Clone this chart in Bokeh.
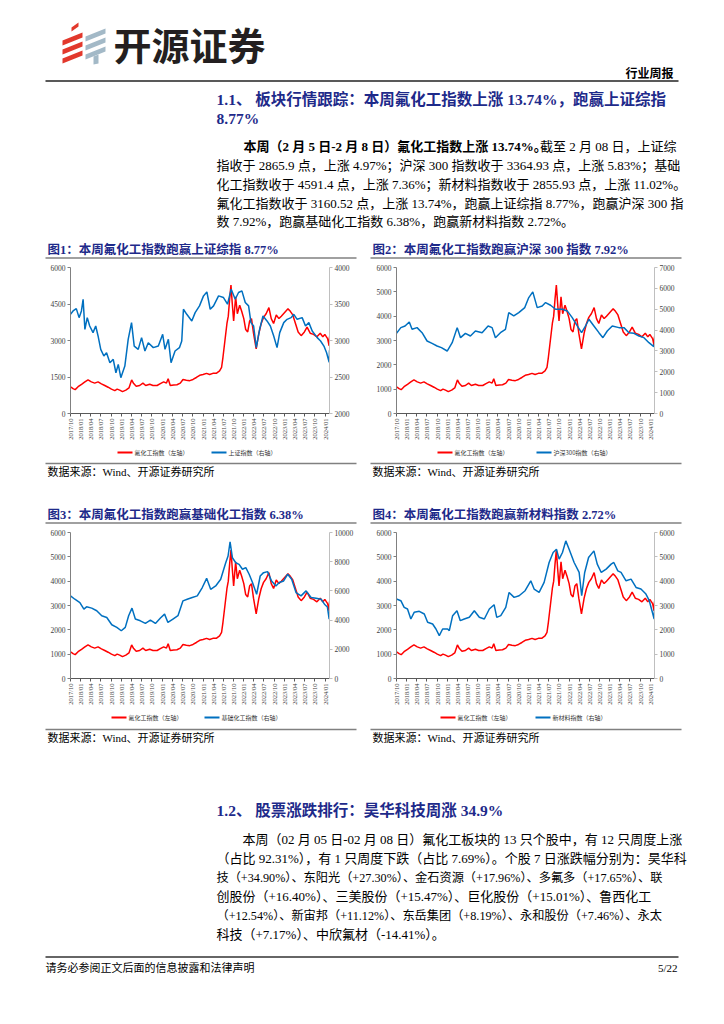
import math
import pandas as pd
from bokeh.plotting import figure
from bokeh.models import Range1d, LinearAxis, FixedTicker, DatetimeTickFormatter, Spacer
from bokeh.layouts import column, row
from bokeh.core.properties import value
from bokeh.embed import file_html
from bokeh.resources import INLINE

# ------------------------------------------------------------------ data
quarter_labels = ["2017/10", "2018/01", "2018/04", "2018/07", "2018/10", "2019/01", "2019/04",
                  "2019/07", "2019/10", "2020/01", "2020/04", "2020/07", "2020/10", "2021/01",
                  "2021/04", "2021/07", "2021/10", "2022/01", "2022/04", "2022/07", "2022/10",
                  "2023/01", "2023/04", "2023/07", "2023/10", "2024/01"]
x_start = "2017-10-01"
x_end = "2024-02-08"

fluoro_dates = ["2017-10-01", "2017-10-24", "2017-11-12", "2017-12-08", "2018-01-08", "2018-02-07",
                "2018-03-07", "2018-04-06", "2018-05-06", "2018-06-05", "2018-07-05", "2018-08-04",
                "2018-09-03", "2018-10-03", "2018-11-02", "2018-11-23", "2018-12-16", "2019-01-10",
                "2019-02-09", "2019-03-09", "2019-04-02", "2019-04-20", "2019-05-13", "2019-06-13",
                "2019-07-12", "2019-08-06", "2019-09-11", "2019-10-10", "2019-11-16", "2019-12-15",
                "2020-01-14", "2020-02-08", "2020-02-23", "2020-03-13", "2020-04-13", "2020-05-12",
                "2020-06-11", "2020-07-05", "2020-08-04", "2020-09-04", "2020-10-03", "2020-11-02",
                "2020-12-02", "2021-01-01", "2021-02-01", "2021-03-01", "2021-03-30", "2021-04-29",
                "2021-05-29", "2021-06-16", "2021-06-28", "2021-07-16", "2021-08-03", "2021-08-15",
                "2021-08-27", "2021-09-08", "2021-09-20", "2021-10-02", "2021-10-20", "2021-11-04",
                "2021-11-25", "2021-12-13", "2022-01-01", "2022-01-18", "2022-02-05", "2022-02-22",
                "2022-03-11", "2022-03-29", "2022-04-22", "2022-05-16", "2022-06-06", "2022-06-27",
                "2022-07-20", "2022-08-14", "2022-09-04", "2022-09-25", "2022-10-19", "2022-11-12",
                "2022-12-03", "2023-01-02", "2023-02-01", "2023-02-22", "2023-03-16", "2023-04-09",
                "2023-05-03", "2023-05-30", "2023-06-28", "2023-07-22", "2023-08-19", "2023-09-18",
                "2023-10-18", "2023-11-17", "2023-12-10", "2023-12-28", "2024-01-22", "2024-02-05",
                "2024-02-08"]
fluoro_vals = [1100, 1020, 980, 1100, 1200, 1300,
               1380, 1300, 1250, 1300, 1220, 1150,
               1080, 1000, 940, 1000, 960, 900,
               960, 1050, 1380, 1230, 1120, 1150,
               1250, 1150, 1200, 1150, 1150, 1230,
               1300, 1250, 1430, 1150, 1170, 1180,
               1250, 1400, 1370, 1350, 1400, 1480,
               1570, 1600, 1650, 1600, 1650, 1650,
               1750, 1900, 2300, 3000, 3700, 4000,
               4700, 5275, 4500, 3800, 4800, 4100,
               4450, 4200, 3900, 3450, 3350, 3800,
               3900, 3300, 2660, 3300, 3700, 3950,
               4100, 4350, 3900, 3700, 4050, 3900,
               4000, 4150, 4300, 4200, 4050, 3700,
               3350, 3200, 3350, 3550, 3300, 3250,
               3150, 3300, 3150, 3250, 3080, 2780,
               3160.52]

sse_dates = ["2017-10-01", "2017-10-24", "2017-11-22", "2017-12-17", "2018-01-07", "2018-01-22",
             "2018-02-07", "2018-02-28", "2018-03-22", "2018-04-21", "2018-05-15", "2018-06-05",
             "2018-06-29", "2018-07-27", "2018-08-20", "2018-09-19", "2018-10-19", "2018-11-12",
             "2018-12-03", "2018-12-26", "2019-01-31", "2019-03-02", "2019-04-01", "2019-04-25",
             "2019-05-31", "2019-06-30", "2019-07-30", "2019-08-29", "2019-10-13", "2019-11-27",
             "2020-01-05", "2020-01-26", "2020-02-25", "2020-03-20", "2020-04-25", "2020-06-03",
             "2020-06-24", "2020-07-09", "2020-08-08", "2020-09-22", "2020-10-22", "2020-11-30",
             "2021-01-05", "2021-02-04", "2021-03-06", "2021-04-05", "2021-05-20", "2021-07-03",
             "2021-08-08", "2021-09-10", "2021-10-16", "2021-11-15", "2021-12-15", "2022-01-14",
             "2022-02-13", "2022-03-06", "2022-03-30", "2022-04-23", "2022-05-23", "2022-06-22",
             "2022-07-28", "2022-08-27", "2022-09-26", "2022-10-26", "2022-11-19", "2022-12-25",
             "2023-01-24", "2023-03-01", "2023-03-25", "2023-04-24", "2023-06-08", "2023-07-08",
             "2023-08-07", "2023-09-06", "2023-10-21", "2023-11-20", "2023-12-20", "2024-01-13",
             "2024-02-05", "2024-02-08"]
sse_vals = [3359, 3405, 3437, 3313, 3405, 3565,
            3153, 3313, 3199, 3108, 3199, 3062,
            2879, 2787, 2833, 2696, 2741, 2558,
            2673, 2490, 2650, 3016, 3245, 2924,
            2879, 3039, 2856, 2970, 2902, 2924,
            3085, 2879, 3016, 2696, 2856, 2902,
            2993, 3428, 3359, 3268, 3382, 3474,
            3611, 3666, 3428, 3474, 3611, 3588,
            3497, 3703, 3565, 3657, 3680, 3520,
            3474, 3245, 3199, 2902, 3153, 3336,
            3268, 3199, 3062, 2902, 3108, 3245,
            3290, 3313, 3359, 3290, 3313, 3199,
            3245, 3130, 3039, 2993, 2924, 2833,
            2702, 2865.9]

hs300_dates = ["2017-10-01", "2017-11-09", "2017-12-17", "2018-01-24", "2018-02-18", "2018-04-04",
               "2018-05-19", "2018-07-03", "2018-08-17", "2018-10-01", "2018-11-09", "2018-12-31",
               "2019-02-14", "2019-03-31", "2019-04-30", "2019-06-13", "2019-07-28", "2019-09-11",
               "2019-11-10", "2020-01-03", "2020-02-08", "2020-03-09", "2020-04-23", "2020-06-07",
               "2020-07-07", "2020-08-21", "2020-10-05", "2020-11-28", "2021-01-03", "2021-02-08",
               "2021-03-20", "2021-05-04", "2021-06-03", "2021-07-18", "2021-09-01", "2021-10-31",
               "2021-12-15", "2022-01-29", "2022-03-15", "2022-04-23", "2022-05-29", "2022-06-28",
               "2022-08-12", "2022-09-26", "2022-11-01", "2022-12-10", "2023-01-24", "2023-03-25",
               "2023-05-09", "2023-06-23", "2023-08-07", "2023-09-21", "2023-11-05", "2023-12-20",
               "2024-02-02", "2024-02-08"]
hs300_vals = [3844, 4117, 4197, 4389, 4037, 4117,
              3876, 3476, 3364, 3236, 3156, 2996,
              3396, 4117, 3636, 3844, 3716, 3956,
              3876, 4197, 4117, 3636, 3876, 4037,
              4838, 4677, 4838, 5078, 5558, 5831,
              5078, 5158, 5318, 5190, 4998, 4998,
              4918, 4597, 4197, 3876, 4197, 4517,
              4197, 3876, 3636, 3956, 4197, 4117,
              4117, 3876, 3844, 3716, 3636, 3396,
              3204, 3364.93]

basic_dates = ["2017-10-01", "2017-11-09", "2017-12-24", "2018-01-29", "2018-02-22", "2018-04-09",
               "2018-05-24", "2018-07-08", "2018-08-22", "2018-10-06", "2018-11-20", "2018-12-30",
               "2019-02-04", "2019-03-06", "2019-04-05", "2019-05-05", "2019-06-19", "2019-08-03",
               "2019-09-17", "2019-11-01", "2019-12-16", "2020-01-22", "2020-02-21", "2020-04-06",
               "2020-05-21", "2020-07-05", "2020-08-12", "2020-09-26", "2020-11-10", "2020-12-25",
               "2021-02-02", "2021-03-10", "2021-04-24", "2021-06-08", "2021-07-23", "2021-08-13",
               "2021-08-31", "2021-09-21", "2021-10-21", "2021-11-20", "2021-12-20", "2022-01-19",
               "2022-02-18", "2022-03-20", "2022-04-26", "2022-05-28", "2022-06-27", "2022-08-02",
               "2022-09-07", "2022-10-16", "2022-11-15", "2022-12-24", "2023-01-29", "2023-03-06",
               "2023-04-14", "2023-05-29", "2023-07-13", "2023-08-27", "2023-10-11", "2023-11-25",
               "2023-12-25", "2024-01-20", "2024-02-05", "2024-02-08"]
basic_vals = [5660, 5430, 5200, 4750, 4910, 4820,
              4640, 4300, 4180, 3680, 3500, 3270,
              3500, 4300, 4820, 4070, 3950, 3770,
              4000, 3770, 4140, 4410, 3840, 4070,
              4300, 5320, 5430, 5550, 5660, 6230,
              6860, 6110, 6340, 6800, 7930, 8390,
              9360, 8270, 7930, 7820, 7480, 7590,
              7140, 6570, 5770, 7020, 7250, 7320,
              6680, 6340, 6570, 6680, 7140, 6800,
              5890, 5660, 6000, 5550, 5500, 5430,
              5090, 4900, 4070, 4591.4]

newmat_dates = ["2017-10-01", "2017-11-09", "2017-12-09", "2018-01-08", "2018-02-07", "2018-03-09",
                "2018-04-24", "2018-06-08", "2018-07-08", "2018-08-22", "2018-09-21", "2018-10-21",
                "2018-11-20", "2019-01-04", "2019-01-19", "2019-02-18", "2019-03-29", "2019-04-28",
                "2019-06-03", "2019-07-18", "2019-09-01", "2019-10-16", "2019-11-30", "2020-01-14",
                "2020-02-26", "2020-03-21", "2020-04-26", "2020-06-10", "2020-07-10", "2020-08-24",
                "2020-10-08", "2020-12-01", "2021-01-21", "2021-02-20", "2021-04-06", "2021-05-21",
                "2021-07-05", "2021-08-10", "2021-09-09", "2021-10-03", "2021-11-02", "2021-12-02",
                "2022-01-01", "2022-02-15", "2022-04-01", "2022-04-24", "2022-05-21", "2022-06-25",
                "2022-08-12", "2022-09-11", "2022-10-17", "2022-11-30", "2023-01-14", "2023-02-07",
                "2023-03-15", "2023-04-13", "2023-05-28", "2023-07-12", "2023-08-26", "2023-10-09",
                "2023-11-23", "2023-12-23", "2024-02-05", "2024-02-08"]
newmat_vals = [3265, 3197, 2923, 2855, 2445, 2719,
               2760, 2650, 2309, 2240, 2035, 1762,
               2035, 2035, 1967, 2582, 2787, 2377,
               2445, 2514, 2787, 2514, 2445, 2855,
               3033, 2514, 2582, 2923, 3538, 3333,
               3401, 3607, 4016, 3675, 3538, 3948,
               4768, 5178, 5314, 4904, 5178, 5656,
               5314, 4768, 4358, 3401, 4358, 4973,
               5246, 4700, 4358, 4495, 4700, 4768,
               4426, 4358, 4016, 4085, 3743, 3675,
               3470, 3197, 2445, 2855.93]

left_ticks_1 = [0, 1500, 3000, 4500, 6000]
left_ticks_std = [0, 1000, 2000, 3000, 4000, 5000, 6000]
right_ticks_1 = [2000, 2500, 3000, 3500, 4000]
right_ticks_2 = [0, 1000, 2000, 3000, 4000, 5000, 6000, 7000]
right_ticks_3 = [0, 2000, 4000, 6000, 8000, 10000]
right_ticks_4 = [0, 1000, 2000, 3000, 4000, 5000, 6000]

red_label = "氟化工指数（左轴）"
blue_labels = ["上证指数（右轴）", "沪深300指数（右轴）", "基础化工指数（右轴）", "新材料指数（右轴）"]
fig_titles = ["图1：本周氟化工指数跑赢上证综指 8.77%",
              "图2：本周氟化工指数跑赢沪深 300 指数 7.92%",
              "图3：本周氟化工指数跑赢基础化工指数 6.38%",
              "图4：本周氟化工指数跑赢新材料指数 2.72%"]
source_text = "数据来源：Wind、开源证券研究所"

sec1_title = ["1.1、 板块行情跟踪：本周氟化工指数上涨 13.74%，跑赢上证综指", "8.77%"]
para1_bold = "本周（2 月 5 日-2 月 8 日）氟化工指数上涨 13.74%。"
para1_first_rest = "截至 2 月 08 日，上证综"
para1_lines = ["指收于 2865.9 点，上涨 4.97%；沪深 300 指数收于 3364.93 点，上涨 5.83%；基础",
               "化工指数收于 4591.4 点，上涨 7.36%；新材料指数收于 2855.93 点，上涨 11.02%。",
               "氟化工指数收于 3160.52 点，上涨 13.74%，跑赢上证综指 8.77%，跑赢沪深 300 指",
               "数 7.92%，跑赢基础化工指数 6.38%，跑赢新材料指数 2.72%。"]
sec2_title = "1.2、 股票涨跌排行：昊华科技周涨 34.9%"
para2_lines = ["本周（02 月 05 日-02 月 08 日）氟化工板块的 13 只个股中，有 12 只周度上涨",
               "（占比 92.31%），有 1 只周度下跌（占比 7.69%）。个股 7 日涨跌幅分别为：昊华科",
               "技（+34.90%）、东阳光（+27.30%）、金石资源（+17.96%）、多氟多（+17.65%）、联",
               "创股份（+16.40%）、三美股份（+15.47%）、巨化股份（+15.01%）、鲁西化工",
               "（+12.54%）、新宙邦（+11.12%）、东岳集团（+8.19%）、永和股份（+7.46%）、永太",
               "科技（+7.17%）、中欣氟材（-14.41%）。"]

# ------------------------------------------------------------------ styles
NAVY = "#1E2A8A"
SERIF = "Liberation Serif, Noto Sans CJK SC"
CJK = "Noto Sans CJK SC"
RED = "#FF0000"
BLUE = "#0070C0"
PAGE_W = 716


def page_fig(top, bottom):
    p = figure(width=PAGE_W, height=bottom - top, x_range=Range1d(0, PAGE_W),
               y_range=Range1d(bottom, top),
               x_axis_type=None, y_axis_type=None, output_backend="svg", toolbar_location=None,
               min_border=0)
    p.outline_line_color = None
    p.background_fill_color = "white"
    p.border_fill_color = "white"
    return p


def put(p, x, y, s, size, color="#000000", bold=False, align="left", font=SERIF):
    p.text(x=[x], y=[y], text=[s], text_font=value(font), text_font_size=value(f"{size}px"),
           text_font_style="bold" if bold else "normal", text_color=color,
           text_align=align, text_baseline="middle")


def hline(p, x0, x1, y, color, w):
    p.segment(x0=[x0], y0=[y], x1=[x1], y1=[y], line_color=color, line_width=w)


def legend_row(p, y, x_red, x_blue, blue_label):
    hline(p, x_red, x_red + 15, y, RED, 2)
    put(p, x_red + 17, y, red_label, 6, color="#333333", font=CJK)
    hline(p, x_blue, x_blue + 15, y, BLUE, 2)
    put(p, x_blue + 17, y, blue_label, 6, color="#333333", font=CJK)


tick_ms = [pd.to_datetime(s, format="%Y/%m").value // 10**6 for s in quarter_labels]


def style_axis(ax):
    ax.major_tick_in = 0
    ax.major_tick_out = 3
    ax.minor_tick_in = 0
    ax.minor_tick_out = 0
    ax.major_label_standoff = 2
    ax.major_label_text_font = "Liberation Serif"
    ax.major_label_text_color = "#404040"


CH_H = 185


def chart(blue_dates, blue_vals, left_ticks, right_ticks, bl, br):
    xr = Range1d(pd.Timestamp(x_start), pd.Timestamp(x_end))
    p = figure(width=320, height=CH_H, x_axis_type="datetime", x_range=xr,
               y_range=Range1d(left_ticks[0], left_ticks[-1]),
               output_backend="svg", toolbar_location=None,
               min_border_left=bl, min_border_right=br, min_border_top=6, min_border_bottom=33)
    p.extra_y_ranges = {"right": Range1d(right_ticks[0], right_ticks[-1])}
    p.outline_line_color = None
    p.grid.visible = False
    p.background_fill_color = "white"
    p.border_fill_color = "white"

    p.line(pd.to_datetime(fluoro_dates), fluoro_vals, line_color=RED, line_width=1.5)
    p.line(pd.to_datetime(blue_dates), blue_vals, line_color=BLUE, line_width=1.5,
           y_range_name="right")

    xa = p.xaxis[0]
    xa.ticker = FixedTicker(ticks=tick_ms)
    xa.formatter = DatetimeTickFormatter(days="%Y/%m", months="%Y/%m", years="%Y/%m")
    xa.major_label_orientation = math.pi / 2
    style_axis(xa)
    xa.major_label_text_font_size = "6.5px"
    xa.axis_line_color = "#595959"
    xa.major_tick_line_color = "#595959"

    ya = p.yaxis[0]
    ya.ticker = FixedTicker(ticks=left_ticks)
    style_axis(ya)
    ya.major_label_text_font_size = "7.5px"
    ya.axis_line_color = "#808080"
    ya.major_tick_line_color = "#808080"

    ra = LinearAxis(y_range_name="right", ticker=FixedTicker(ticks=right_ticks))
    style_axis(ra)
    ra.major_label_text_font_size = "7.5px"
    ra.axis_line_color = "#BFBFBF"
    ra.major_tick_line_color = "#BFBFBF"
    p.add_layout(ra, "right")
    return p


# ------------------------------------------------------------------ segment 1 (top text)
top = page_fig(0, 261)
red_xs = [[71, 78, 78, 71]] + [[62, 82, 82, 62] for _ in range(3)]
red_ys = [[27, 22, 26, 31]] + [[40 + 9 * i, 32 + 9 * i, 37 + 9 * i, 45 + 9 * i] for i in range(3)]
top.patches(red_xs, red_ys, fill_color="#E2382C", line_color=None)
gray_xs = [[85, 105, 105, 85] for _ in range(3)] + [[93, 98, 98, 93]]
gray_ys = [[36 + 9 * i, 28 + 9 * i, 33 + 9 * i, 41 + 9 * i] for i in range(3)] + [[56, 54, 63, 64]]
top.patches(gray_xs, gray_ys, fill_color="#A3B9C7", line_color=None)
put(top, 113, 43, "开源证券", 38, color="#231F20", bold=True, font=CJK)
put(top, 673, 72, "行业周报", 12, bold=True, align="right", font=CJK)
hline(top, 45, 678, 80.5, "#222222", 1.5)

put(top, 216, 99, sec1_title[0], 15.5, color=NAVY, bold=True)
put(top, 216, 118, sec1_title[1], 15.5, color=NAVY, bold=True)

put(top, 243, 146, para1_bold, 13, bold=True)
put(top, 676, 146, para1_first_rest, 13, align="right")
for i, s in enumerate(para1_lines):
    put(top, 216, 165 + 18.8 * i, s, 13)

put(top, 47, 249, fig_titles[0], 12.5, color=NAVY, bold=True)
put(top, 372, 249, fig_titles[1], 12.5, color=NAVY, bold=True)
hline(top, 45, 356, 257.5, "#808080", 1.5)
hline(top, 370, 681, 257.5, "#808080", 1.5)

# ------------------------------------------------------------------ charts row 1
c1 = chart(sse_dates, sse_vals, left_ticks_1, right_ticks_1, 30, 31)
c2 = chart(hs300_dates, hs300_vals, left_ticks_std, right_ticks_2, 31, 31)
row1 = row(Spacer(width=40, height=CH_H), c1, Spacer(width=5, height=CH_H), c2)

# ------------------------------------------------------------------ segment 3
mid = page_fig(446, 526)
legend_row(mid, 452, 117, 211, blue_labels[0])
legend_row(mid, 452, 437, 536, blue_labels[1])
hline(mid, 45, 356, 463, "#808080", 1.5)
hline(mid, 370, 681, 463, "#808080", 1.5)
put(mid, 47, 471, source_text, 11)
put(mid, 372, 471, source_text, 11)
put(mid, 47, 514, fig_titles[2], 12.5, color=NAVY, bold=True)
put(mid, 372, 514, fig_titles[3], 12.5, color=NAVY, bold=True)
hline(mid, 45, 356, 522.5, "#808080", 1.5)
hline(mid, 370, 681, 522.5, "#808080", 1.5)

# ------------------------------------------------------------------ charts row 2
c3 = chart(basic_dates, basic_vals, left_ticks_std, right_ticks_3, 30, 31)
c4 = chart(newmat_dates, newmat_vals, left_ticks_std, right_ticks_4, 31, 31)
row2 = row(Spacer(width=40, height=CH_H), c3, Spacer(width=5, height=CH_H), c4)

# ------------------------------------------------------------------ segment 5
bot = page_fig(711, 1016)
legend_row(bot, 717, 111, 204, blue_labels[2])
legend_row(bot, 717, 440, 535, blue_labels[3])
hline(bot, 45, 356, 729, "#808080", 1.5)
hline(bot, 370, 681, 729, "#808080", 1.5)
put(bot, 47, 737, source_text, 11)
put(bot, 372, 737, source_text, 11)
put(bot, 216, 810, sec2_title, 15.5, color=NAVY, bold=True)
para2_sizes = [13, 13, 12.2, 13, 12.2, 13]
for i, s in enumerate(para2_lines):
    put(bot, 242 if i == 0 else 216, 839 + 19 * i, s, para2_sizes[i])
hline(bot, 45, 678, 956.5, "#333333", 1.5)
put(bot, 45, 967, "请务必参阅正文后面的信息披露和法律声明", 11)
put(bot, 677, 967, "5/22", 11, align="right")

page = column(top, row1, mid, row2, bot)
open("out.html", "w").write(file_html(page, INLINE, "行业周报"))
